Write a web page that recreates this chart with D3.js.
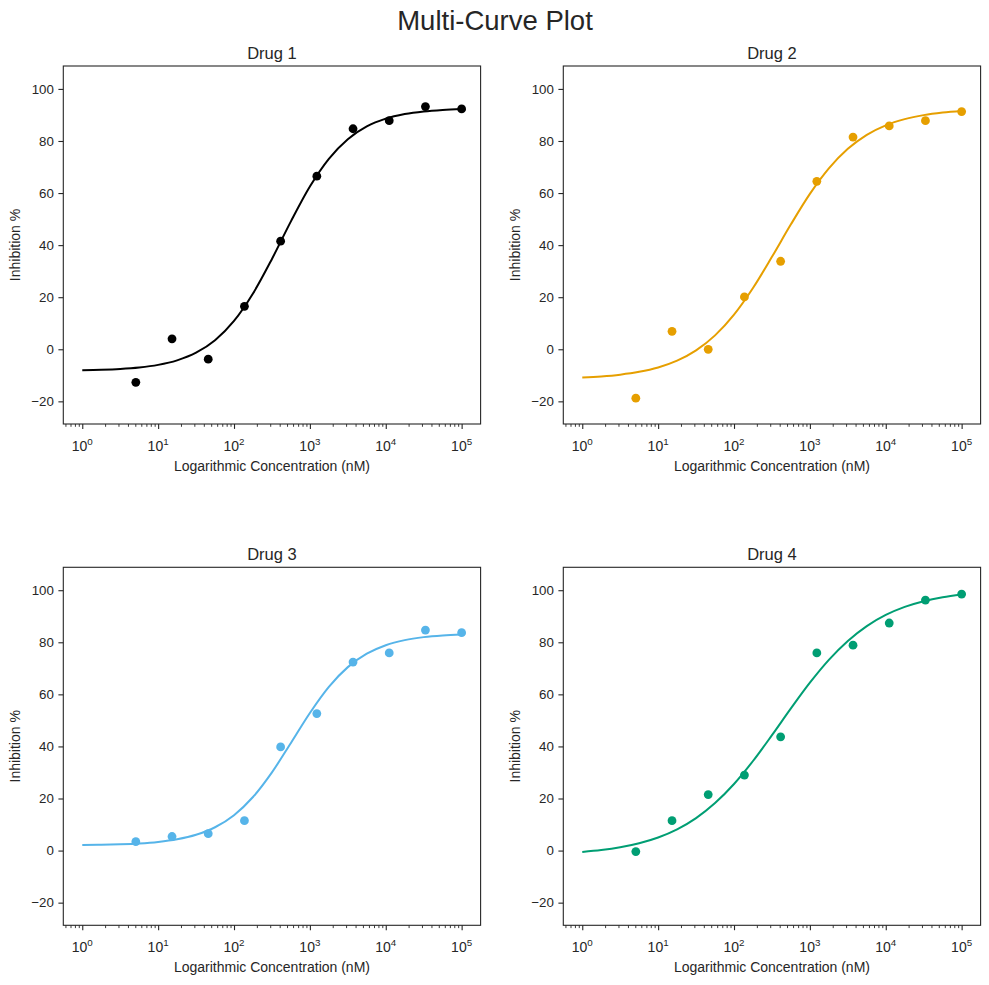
<!DOCTYPE html>
<html>

<head>
    <meta charset="utf-8">
    <script src="https://d3js.org/d3.v7.min.js"></script>
    <style>
        body {
            margin: 0;
            background: #fff;
            font-family: "Liberation Sans", Arial, sans-serif;
        }

        text {
            fill: #262626;
        }
    </style>
</head>

<body>
    <div id="chart"></div>
    <script>
        // concentrations (nM), 3-fold dilution series
        var concentrations = [5.08, 15.24, 45.72, 137.17, 411.52, 1234.57, 3703.7, 11111.1, 33333.3, 100000];
        var drugNames = ["Drug 1", "Drug 2", "Drug 3", "Drug 4"];
        var drugColors = ["#000000", "#E69F00", "#56B4E9", "#009E73"];

        // measured inhibition %
        var drug1Values = [-12.7, 4.0, -3.8, 16.5, 41.5, 66.5, 84.7, 87.8, 93.2, 92.3];
        var drug2Values = [-18.8, 6.9, 0.0, 20.1, 33.8, 64.5, 81.5, 85.8, 87.8, 91.3];
        var drug3Values = [3.4, 5.4, 6.5, 11.5, 39.8, 52.6, 72.4, 75.9, 84.7, 83.7];
        var drug4Values = [-0.4, 11.5, 21.5, 29.0, 43.7, 75.9, 78.9, 87.4, 96.2, 98.5];

        // fitted curves, sampled every quarter decade from 10^0 to 10^5
        var curveExponents = [0, 0.25, 0.5, 0.75, 1, 1.25, 1.5, 1.75, 2, 2.25, 2.5, 2.75, 3, 3.25, 3.5, 3.75, 4, 4.25, 4.5, 4.75, 5];
        var drug1Curve = [-8.06, -7.88, -7.56, -6.99, -5.99, -4.26, -1.33, 3.46, 10.88, 21.42, 34.70, 49.13, 62.50, 73.16, 80.70, 85.58, 88.57, 90.33, 91.36, 91.94, 92.27];
        var drug2Curve = [-10.82, -10.41, -9.74, -8.67, -6.99, -4.38, -0.43, 5.34, 13.31, 23.54, 35.50, 47.98, 59.67, 69.47, 76.98, 82.35, 86.00, 88.39, 89.93, 90.90, 91.51];
        var drug3Curve = [2.14, 2.24, 2.43, 2.75, 3.33, 4.34, 6.06, 8.96, 13.60, 20.57, 30.05, 41.34, 52.85, 62.88, 70.46, 75.61, 78.87, 80.83, 81.98, 82.64, 83.01];
        var drug4Curve = [-0.52, 0.20, 1.26, 2.80, 5.02, 8.15, 12.48, 18.24, 25.58, 34.40, 44.32, 54.60, 64.47, 73.25, 80.52, 86.23, 90.50, 93.59, 95.78, 97.29, 98.34];

        var yTicks = [-20, 0, 20, 40, 60, 80, 100];
        var xTickExponents = [0, 1, 2, 3, 4, 5];

        var drugValues = [drug1Values, drug2Values, drug3Values, drug4Values];
        var drugCurves = [drug1Curve, drug2Curve, drug3Curve, drug4Curve];

        var W = 989, H = 985;
        var panelW = 417.3, panelH = 358;
        var panelPos = [[63.3, 66], [563.3, 66], [63.3, 567.3], [563.3, 567.3]];

        var svg = d3.select("#chart")
            .append("svg")
            .attr("width", W)
            .attr("height", H);

        svg.append("text")
            .attr("x", 495)
            .attr("y", 30)
            .attr("text-anchor", "middle")
            .style("font-size", "27.5px")
            .text("Multi-Curve Plot");

        var x = d3.scaleLog()
            .domain([Math.pow(10, -0.25), Math.pow(10, 5.25)])
            .range([0, panelW]);
        var y = d3.scaleLinear()
            .domain([-28.7, 108.8])
            .range([panelH, 0]);

        // minor ticks 2..9 in each decade, within the domain
        var minorTicks = [];
        for (var e = -1; e <= 5; e++) {
            for (var m = 2; m <= 9; m++) {
                var v = m * Math.pow(10, e);
                if (v >= x.domain()[0] && v <= x.domain()[1]) minorTicks.push(v);
            }
        }

        drugNames.forEach(function (name, i) {
            var g = svg.append("g")
                .attr("transform", "translate(" + panelPos[i][0] + "," + panelPos[i][1] + ")");

            // y axis
            var yAxis = g.append("g")
                .call(d3.axisLeft(y).tickValues(yTicks).tickSize(4.9).tickPadding(4.5).tickFormat(function (d) {
                    return d < 0 ? "\u2212" + Math.abs(d) : d;
                }));
            yAxis.select(".domain").remove();
            yAxis.selectAll("line").attr("stroke", "#262626").attr("stroke-width", 1.1);
            yAxis.selectAll("text").style("font-size", "13.3px").attr("fill", "#262626").attr("font-family", null);

            // x axis: major ticks
            var xAxis = g.append("g")
                .attr("transform", "translate(0," + panelH + ")")
                .call(d3.axisBottom(x).tickValues(xTickExponents.map(function (d) { return Math.pow(10, d); }))
                    .tickSize(4.9).tickFormat(""));
            xAxis.select(".domain").remove();
            xAxis.selectAll("line").attr("stroke", "#262626").attr("stroke-width", 1.1);

            // minor ticks
            var xMinor = g.append("g")
                .attr("transform", "translate(0," + panelH + ")")
                .call(d3.axisBottom(x).tickValues(minorTicks).tickSize(2.8).tickFormat(""));
            xMinor.select(".domain").remove();
            xMinor.selectAll("line").attr("stroke", "#262626").attr("stroke-width", 0.9);

            // 10^n labels
            var lbl = g.selectAll(".xlbl")
                .data(xTickExponents)
                .enter()
                .append("text")
                .attr("class", "xlbl")
                .attr("x", function (d) { return x(Math.pow(10, d)); })
                .attr("y", panelH + 27)
                .attr("text-anchor", "middle")
                .style("font-size", "14px");
            lbl.append("tspan").text("10");
            lbl.append("tspan")
                .attr("dy", -6.5)
                .style("font-size", "9.8px")
                .text(function (d) { return d; });

            // frame
            g.append("rect")
                .attr("width", panelW)
                .attr("height", panelH)
                .attr("fill", "none")
                .attr("stroke", "#262626")
                .attr("stroke-width", 1.1);

            // fitted curve
            var line = d3.line()
                .x(function (d) { return x(Math.pow(10, d[0])); })
                .y(function (d) { return y(d[1]); })
                .curve(d3.curveMonotoneX);
            g.append("path")
                .datum(curveExponents.map(function (e, k) { return [e, drugCurves[i][k]]; }))
                .attr("d", line)
                .attr("fill", "none")
                .attr("stroke", drugColors[i])
                .attr("stroke-width", 2);

            // data points
            g.selectAll(".pt")
                .data(concentrations)
                .enter()
                .append("circle")
                .attr("class", "pt")
                .attr("cx", function (d) { return x(d); })
                .attr("cy", function (d, k) { return y(drugValues[i][k]); })
                .attr("r", 4.4)
                .attr("fill", drugColors[i]);

            // titles & labels
            g.append("text")
                .attr("x", panelW / 2)
                .attr("y", -7.5)
                .attr("text-anchor", "middle")
                .style("font-size", "16.5px")
                .text(name);

            g.append("text")
                .attr("x", panelW / 2)
                .attr("y", panelH + 46.5)
                .attr("text-anchor", "middle")
                .style("font-size", "14px")
                .text("Logarithmic Concentration (nM)");

            g.append("text")
                .attr("transform", "translate(" + (-43) + "," + (panelH / 2) + ") rotate(-90)")
                .attr("text-anchor", "middle")
                .style("font-size", "14px")
                .text("Inhibition %");
        });
    </script>
</body>

</html>
